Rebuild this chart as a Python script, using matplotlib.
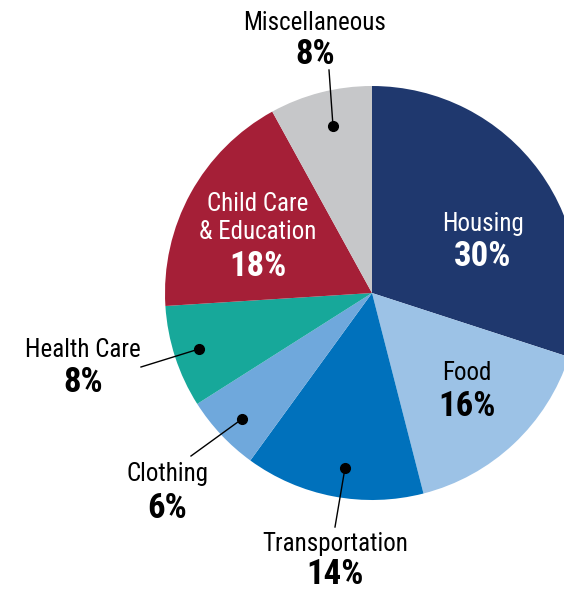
import matplotlib
matplotlib.use('Agg')
import matplotlib.pyplot as plt
from matplotlib import font_manager

# data
categories = ['Housing', 'Food', 'Transportation', 'Clothing', 'Health Care',
              'Child Care\n& Education', 'Miscellaneous']
shares = [30, 16, 14, 6, 8, 18, 8]
colors = ['#1f386e', '#9cc2e6', '#0071bc', '#6fa8dc', '#17a89a', '#a51f37', '#c6c7c9']

names = set(f.name for f in font_manager.fontManager.ttflist)
fam = 'DejaVu Sans'
for cand in ['Liberation Sans Narrow', 'Roboto Condensed', 'Roboto', 'Inter']:
    if cand in names:
        fam = cand
        break
plt.rcParams['font.family'] = [fam, 'DejaVu Sans']

W, H = 564, 589
fig = plt.figure(figsize=(W / 100, H / 100), dpi=100)
ax = fig.add_axes([0, 0, 1, 1])

# pie drawn in pixel coords (y flipped, so counterclock in data = clockwise on screen)
cx, cy, r = 372, 293, 207
ax.pie(shares, colors=colors, startangle=-90, counterclock=True,
       center=(cx, cy), radius=r, frame=True,
       wedgeprops=dict(linewidth=0))
ax.set_xlim(0, W)
ax.set_ylim(H, 0)
ax.set_aspect('equal')
ax.axis('off')

# label placement
inside = {
    'Housing': ((483, 224), (483, 257), 'white'),
    'Food': ((467, 373), (467, 406), 'black'),
    'Child Care\n& Education': ((258, 218), (258, 267), 'white'),
}
outside = {
    'Miscellaneous': ((315, 23), (315, 55), (333, 126), (329, 70)),
    'Health Care': ((83, 350), (83, 383), (199, 349), (141, 367)),
    'Clothing': ((167, 474), (167, 508), (242, 419), (191, 456)),
    'Transportation': ((335, 544), (335, 574), (345, 468), (335, 527)),
}

name_fs, pct_fs = 18, 25
for cat, val in zip(categories, shares):
    if cat in inside:
        p1, p2, c = inside[cat]
        ax.text(*p1, cat, ha='center', va='center', fontsize=name_fs, color=c,
                linespacing=1.25)
        ax.text(*p2, f'{val}%', ha='center', va='center', fontsize=pct_fs,
                color=c, fontweight='bold')
    else:
        p1, p2, dot, start = outside[cat]
        ax.text(*p1, cat, ha='center', va='center', fontsize=name_fs, color='black')
        ax.text(*p2, f'{val}%', ha='center', va='center', fontsize=pct_fs,
                color='black', fontweight='bold')
        ax.plot([start[0], dot[0]], [start[1], dot[1]], color='black', lw=1)
        ax.plot(dot[0], dot[1], 'o', color='black', markersize=7)

fig.savefig('out.png', dpi=100)
